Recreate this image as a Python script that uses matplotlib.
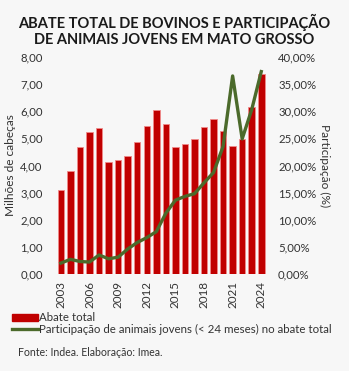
import matplotlib.pyplot as plt
from matplotlib.patches import Patch
from matplotlib.lines import Line2D
from matplotlib.ticker import FuncFormatter

plt.rcParams['font.family'] = ['Lato', 'DejaVu Sans']

years = list(range(2003, 2025))
# abate total, milhões de cabeças
abate = [3.10, 3.78, 4.67, 5.23, 5.38, 4.12, 4.19, 4.34, 4.88, 5.47, 6.05,
         5.53, 4.69, 4.80, 4.97, 5.42, 5.71, 5.27, 4.72, 4.99, 6.17, 7.38]
# participação de animais jovens (< 24 meses), %
jovens = [2.0, 2.7, 2.3, 2.2, 3.5, 2.8, 3.1, 4.6, 5.8, 6.7, 7.8,
          11.2, 13.6, 14.3, 14.8, 16.8, 18.7, 23.5, 36.5, 24.9, 30.3, 37.3]
year_ticks = [2003, 2006, 2009, 2012, 2015, 2018, 2021, 2024]

red = "#c00000"
green = "#4b6a2b"
bg = "#f7f7f7"
txt = "#333333"

fig = plt.figure(figsize=(3.49, 3.71), dpi=100, facecolor=bg)
ax = fig.add_axes([0.158, 0.2615, 0.607, 0.585])
ax.set_facecolor(bg)

x = list(range(len(years)))
ax.bar(x, abate, width=0.68, color=red, edgecolor="#f08a8a", linewidth=0.6)
ax.set_xlim(-0.6, len(years) - 0.4)
ax.set_ylim(0, 8)
ax.set_yticks(range(0, 9))
ax.yaxis.set_major_formatter(FuncFormatter(lambda v, p: ("%.2f" % v).replace(".", ",")))
ax.set_xticks([years.index(y) for y in year_ticks])
ax.set_xticklabels([str(y) for y in year_ticks], rotation=90, fontsize=8.4, color=txt)
ax.tick_params(axis="both", length=0, colors=txt)
ax.tick_params(axis="y", pad=9, labelsize=8.2)
ax.tick_params(axis="x", pad=5)
ax.set_ylabel("Milhões de cabeças", fontsize=8.6, color=txt, labelpad=3)

ax2 = ax.twinx()
ax2.plot(x, jovens, color=green, linewidth=2.4, solid_joinstyle="round")
ax2.set_ylim(0, 40)
ax2.set_yticks(range(0, 41, 5))
ax2.yaxis.set_major_formatter(FuncFormatter(lambda v, p: ("%.2f%%" % v).replace(".", ",")))
ax2.tick_params(axis="y", length=0, labelsize=8.2, colors=txt, pad=8)
ax2.set_ylabel("Participação (%)", fontsize=8.6, color=txt, rotation=270, labelpad=10)

for a in (ax, ax2):
    for s in a.spines.values():
        s.set_visible(False)

fig.text(0.5, 0.962, "ABATE TOTAL DE BOVINOS E PARTICIPAÇÃO\nDE ANIMAIS JOVENS EM MATO GROSSO",
         ha="center", va="top", fontsize=10.5, fontweight="bold", color="#1a1a1a",
         linespacing=1.12)

handles = [Patch(facecolor=red, edgecolor=red),
           Line2D([0], [0], color=green, linewidth=2.4)]
labels = ["Abate total", "Participação de animais jovens (< 24 meses) no abate total"]
leg = fig.legend(handles, labels, loc="upper left", frameon=False, fontsize=8.3,
                 handlelength=2.2, handleheight=0.5, handletextpad=0.15, labelspacing=0.02,
                 borderaxespad=0, borderpad=0, labelcolor=txt)
leg.set_bbox_to_anchor((0.035, 0.158), transform=fig.transFigure)

fig.text(0.052, 0.051, "Fonte: Indea. Elaboração: Imea.", fontsize=7.6, color=txt,
         ha="left", va="center")

fig.savefig("out.png", dpi=100, facecolor=bg)
